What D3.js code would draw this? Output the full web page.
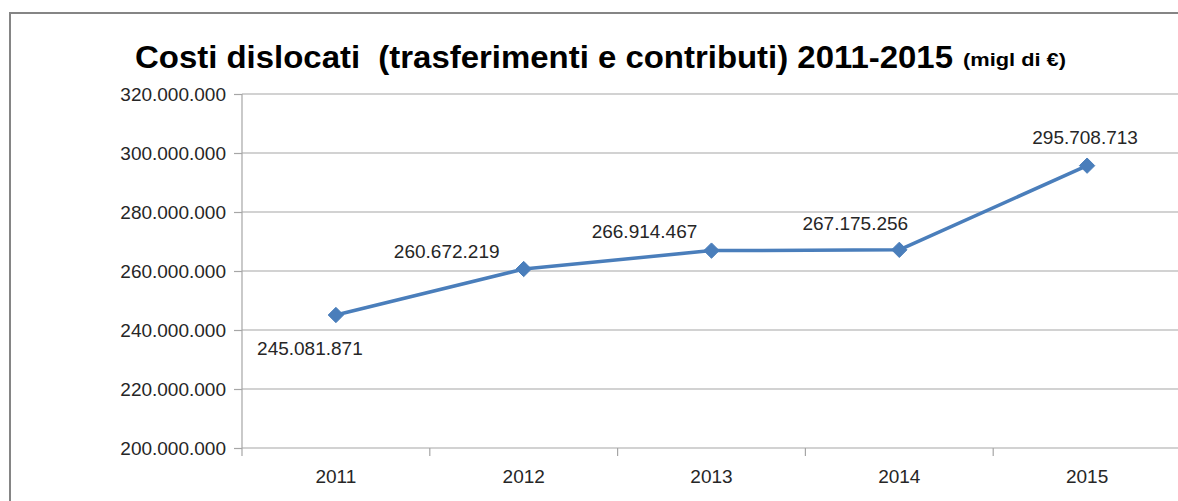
<!DOCTYPE html>
<html>
<head>
<meta charset="utf-8">
<script src="https://cdn.jsdelivr.net/npm/d3@7"></script>
<style>
  body { margin: 0; background: #fff; }
  svg { display: block; font-family: "Liberation Sans", Arial, sans-serif; }
</style>
</head>
<body>
<div id="chart"></div>
<script>
const years = ['2011', '2012', '2013', '2014', '2015'];
const costs = [245081871, 260672219, 266914467, 267175256, 295708713];
const yTicks = [200000000, 220000000, 240000000, 260000000, 280000000, 300000000, 320000000];
// label offsets from each point, px
const labelDx = [-26, -77, -67, -44, -2];
const labelDy = [33, -18, -20, -27, -29];

const W = 1178, H = 501;
const margin = { top: 94, right: -3, bottom: 53, left: 242 };
const innerW = W - margin.left - margin.right;
const innerH = H - margin.top - margin.bottom;

const fmt = (d) => d3.format(',')(d).replace(/,/g, '.');

const svg = d3.select('#chart').append('svg')
  .attr('width', W).attr('height', H);

// outer frame (cropped at right and bottom)
svg.append('rect')
  .attr('x', 10).attr('y', 13).attr('width', 1300).attr('height', 700)
  .attr('fill', 'none').attr('stroke', '#858585').attr('stroke-width', 2);

svg.append('text')
  .attr('x', 135).attr('y', 68)
  .attr('font-size', 32).attr('font-weight', 'bold').attr('fill', '#000')
  .attr('textLength', 818).attr('lengthAdjust', 'spacingAndGlyphs')
  .style('white-space', 'pre')
  .text('Costi dislocati  (trasferimenti e contributi) 2011-2015');
svg.append('text')
  .attr('x', 963).attr('y', 66)
  .attr('font-size', 19).attr('font-weight', 'bold').attr('fill', '#000')
  .attr('textLength', 103).attr('lengthAdjust', 'spacingAndGlyphs')
  .text('(migl di €)');

const g = svg.append('g').attr('transform', `translate(${margin.left},${margin.top})`);

const x = d3.scaleBand().domain(years).range([0, innerW]);
const y = d3.scaleLinear().domain([200000000, 320000000]).range([innerH, 0]);

// gridlines
g.append('g').selectAll('line').data(yTicks.slice(1)).join('line')
  .attr('x1', 0).attr('x2', innerW)
  .attr('y1', (d) => y(d)).attr('y2', (d) => y(d))
  .attr('stroke', '#a6a6a6').attr('stroke-width', 1.2);

const yAxisG = g.append('g')
  .call(d3.axisLeft(y).tickValues(yTicks).tickFormat(fmt).tickSize(8).tickPadding(8));
const xAxisG = g.append('g').attr('transform', `translate(0,${innerH})`)
  .call(d3.axisBottom(x).tickSize(0).tickPadding(22));

// x ticks at category boundaries
g.append('g').selectAll('line').data(d3.range(years.length + 1)).join('line')
  .attr('x1', (i) => i * x.bandwidth()).attr('x2', (i) => i * x.bandwidth())
  .attr('y1', innerH).attr('y2', innerH + 8)
  .attr('stroke', '#a6a6a6').attr('stroke-width', 1.2);

[xAxisG, yAxisG].forEach((ax) => {
  ax.selectAll('path.domain').attr('stroke', '#a6a6a6').attr('stroke-width', 1.2);
  ax.selectAll('line').attr('stroke', '#a6a6a6').attr('stroke-width', 1.2);
  ax.selectAll('text').attr('fill', '#262626').attr('font-size', 19)
    .attr('font-family', '"Liberation Sans", Arial, sans-serif');
});
yAxisG.select('path.domain').attr('d', `M0,${innerH}V0`);
xAxisG.select('path.domain').attr('d', `M0,0H${innerW}`);

const cx = (d, i) => x(years[i]) + x.bandwidth() / 2;

g.append('path').datum(costs)
  .attr('fill', 'none').attr('stroke', '#4a7ebb').attr('stroke-width', 3.5)
  .attr('stroke-linejoin', 'round')
  .attr('d', d3.line().x(cx).y((d) => y(d)));

g.append('g').selectAll('path').data(costs).join('path')
  .attr('transform', (d, i) => `translate(${cx(d, i)},${y(d)})`)
  .attr('d', d3.symbol(d3.symbolDiamond2, 150))
  .attr('fill', '#4a7ebb').attr('stroke', '#4a7ebb').attr('stroke-width', 1);

g.append('g').selectAll('text').data(costs).join('text')
  .attr('x', (d, i) => cx(d, i) + labelDx[i])
  .attr('y', (d, i) => y(d) + labelDy[i] + 7)
  .attr('text-anchor', 'middle').attr('font-size', 19).attr('fill', '#262626')
  .text(fmt);
</script>
</body>
</html>
